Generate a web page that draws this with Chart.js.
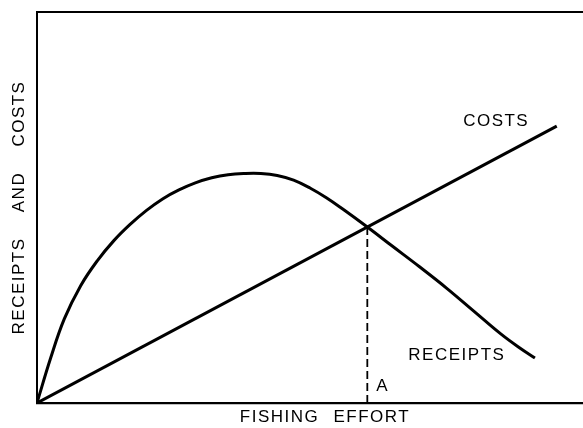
<!DOCTYPE html>
<html>
<head>
<meta charset="utf-8">
<script src="https://cdn.jsdelivr.net/npm/chart.js@4.4.1/dist/chart.umd.min.js"></script>
<style>
  html, body { margin: 0; padding: 0; background: #fff; overflow: hidden; }
  #clip { width: 583px; height: 428px; overflow: hidden; position: relative; }
  #wrap { width: 613px; height: 428px; position: absolute; left: 0; top: 0; }
</style>
</head>
<body>
<div id="clip"><div id="wrap"><canvas id="c"></canvas></div></div>
<script>
// Fishing effort (x, arbitrary units) and receipts (y, arbitrary units)
const effortReceipts = [0, 2.5, 5, 8, 11, 14, 17, 20, 23, 26, 29, 32, 35, 38, 41, 44, 47, 50, 53, 56, 60.5, 65, 70, 75, 80, 85, 88.5, 91.2];
const receipts       = [0, 11.5, 21.5, 30.0, 36.3, 41.4, 45.6, 49.2, 52.2, 54.5, 56.3, 57.6, 58.4, 58.7, 58.7, 58.2, 57.0, 55.0, 52.5, 49.6, 45.0, 40.2, 34.9, 29.4, 23.5, 17.6, 14.0, 11.5];
const effortCosts    = [0, 95.2];
const costs          = [0, 70.8];
const pointAEffort   = 60.5;
const pointAValue    = 45.0;
const xTitle = 'FISHING EFFORT';
const yTitle = 'RECEIPTS AND COSTS';
const curveLabels = ['COSTS', 'RECEIPTS', 'A'];
const curveLabelX = [84.1, 76.9, 63.3];
const curveLabelY = [72.1, 12.3, 4.3];

const toPts = (xs, ys) => xs.map((x, i) => ({x: x, y: ys[i]}));
const FONT = '"Liberation Sans", Arial, sans-serif';

function spaced(scale, letter, word) {
  if (!scale || scale.__spaced) return;
  const orig = scale.drawTitle;
  scale.drawTitle = function () {
    const ctx = this.ctx;
    const pl = ctx.letterSpacing, pw = ctx.wordSpacing;
    try { ctx.letterSpacing = letter; ctx.wordSpacing = word; } catch (e) {}
    orig.apply(this, arguments);
    try { ctx.letterSpacing = pl; ctx.wordSpacing = pw; } catch (e) {}
  };
  scale.__spaced = true;
}

const spacingPlugin = {
  id: 'titleSpacing',
  beforeDraw(chart) {
    spaced(chart.scales.x, '1.5px', '8px');
    spaced(chart.scales.y, '1.5px', '19px');
  }
};

const labelPlugin = {
  id: 'curveLabels',
  afterDatasetsDraw(chart) {
    const {ctx, scales} = chart;
    ctx.save();
    ctx.fillStyle = '#000';
    ctx.font = '17px ' + FONT;
    ctx.textAlign = 'center';
    ctx.textBaseline = 'middle';
    try { ctx.letterSpacing = '1.5px'; } catch (e) {}
    curveLabels.forEach((t, i) => {
      ctx.fillText(t, scales.x.getPixelForValue(curveLabelX[i]), scales.y.getPixelForValue(curveLabelY[i]));
    });
    ctx.restore();
  }
};

new Chart(document.getElementById('c'), {
  type: 'scatter',
  data: {
    datasets: [
      {
        label: 'Receipts',
        data: toPts(effortReceipts, receipts),
        showLine: true,
        borderColor: '#000',
        borderWidth: 3,
        pointRadius: 0,
        tension: 0.4,
        fill: false
      },
      {
        label: 'Costs',
        data: toPts(effortCosts, costs),
        showLine: true,
        borderColor: '#000',
        borderWidth: 3,
        pointRadius: 0,
        fill: false
      },
      {
        label: 'A',
        data: [{x: pointAEffort, y: pointAValue}, {x: pointAEffort, y: 0}],
        showLine: true,
        borderColor: '#000',
        borderWidth: 1.8,
        borderDash: [8, 4],
        pointRadius: 0,
        fill: false
      }
    ]
  },
  options: {
    responsive: true,
    maintainAspectRatio: false,
    animation: false,
    layout: { padding: { top: 12, right: 0, left: 0, bottom: 0 } },
    plugins: { legend: { display: false }, tooltip: { enabled: false } },
    scales: {
      x: {
        type: 'linear', min: 0, max: 105.5,
        position: 'bottom',
        grid: { display: false, drawTicks: false },
        border: { display: true, color: '#000', width: 2.2 },
        ticks: { display: false },
        title: {
          display: true, text: xTitle, color: '#000',
          font: { family: FONT, size: 17 },
          padding: { top: 0, bottom: 0 }
        },
        afterFit(s) { s.height = 25; }
      },
      xTop: {
        type: 'linear', min: 0, max: 105.5,
        position: 'top',
        grid: { display: false, drawTicks: false },
        border: { display: true, color: '#000', width: 2 },
        ticks: { display: false },
        afterFit(s) { s.height = 0; }
      },
      y: {
        type: 'linear', min: 0, max: 100,
        grid: { display: false, drawTicks: false },
        border: { display: true, color: '#000', width: 2 },
        ticks: { display: false },
        title: {
          display: true, text: yTitle, color: '#000',
          font: { family: FONT, size: 17 },
          padding: { top: 9, bottom: 0 }
        },
        afterFit(s) { s.width = 37; }
      }
    }
  },
  plugins: [spacingPlugin, labelPlugin]
});
</script>
</body>
</html>
